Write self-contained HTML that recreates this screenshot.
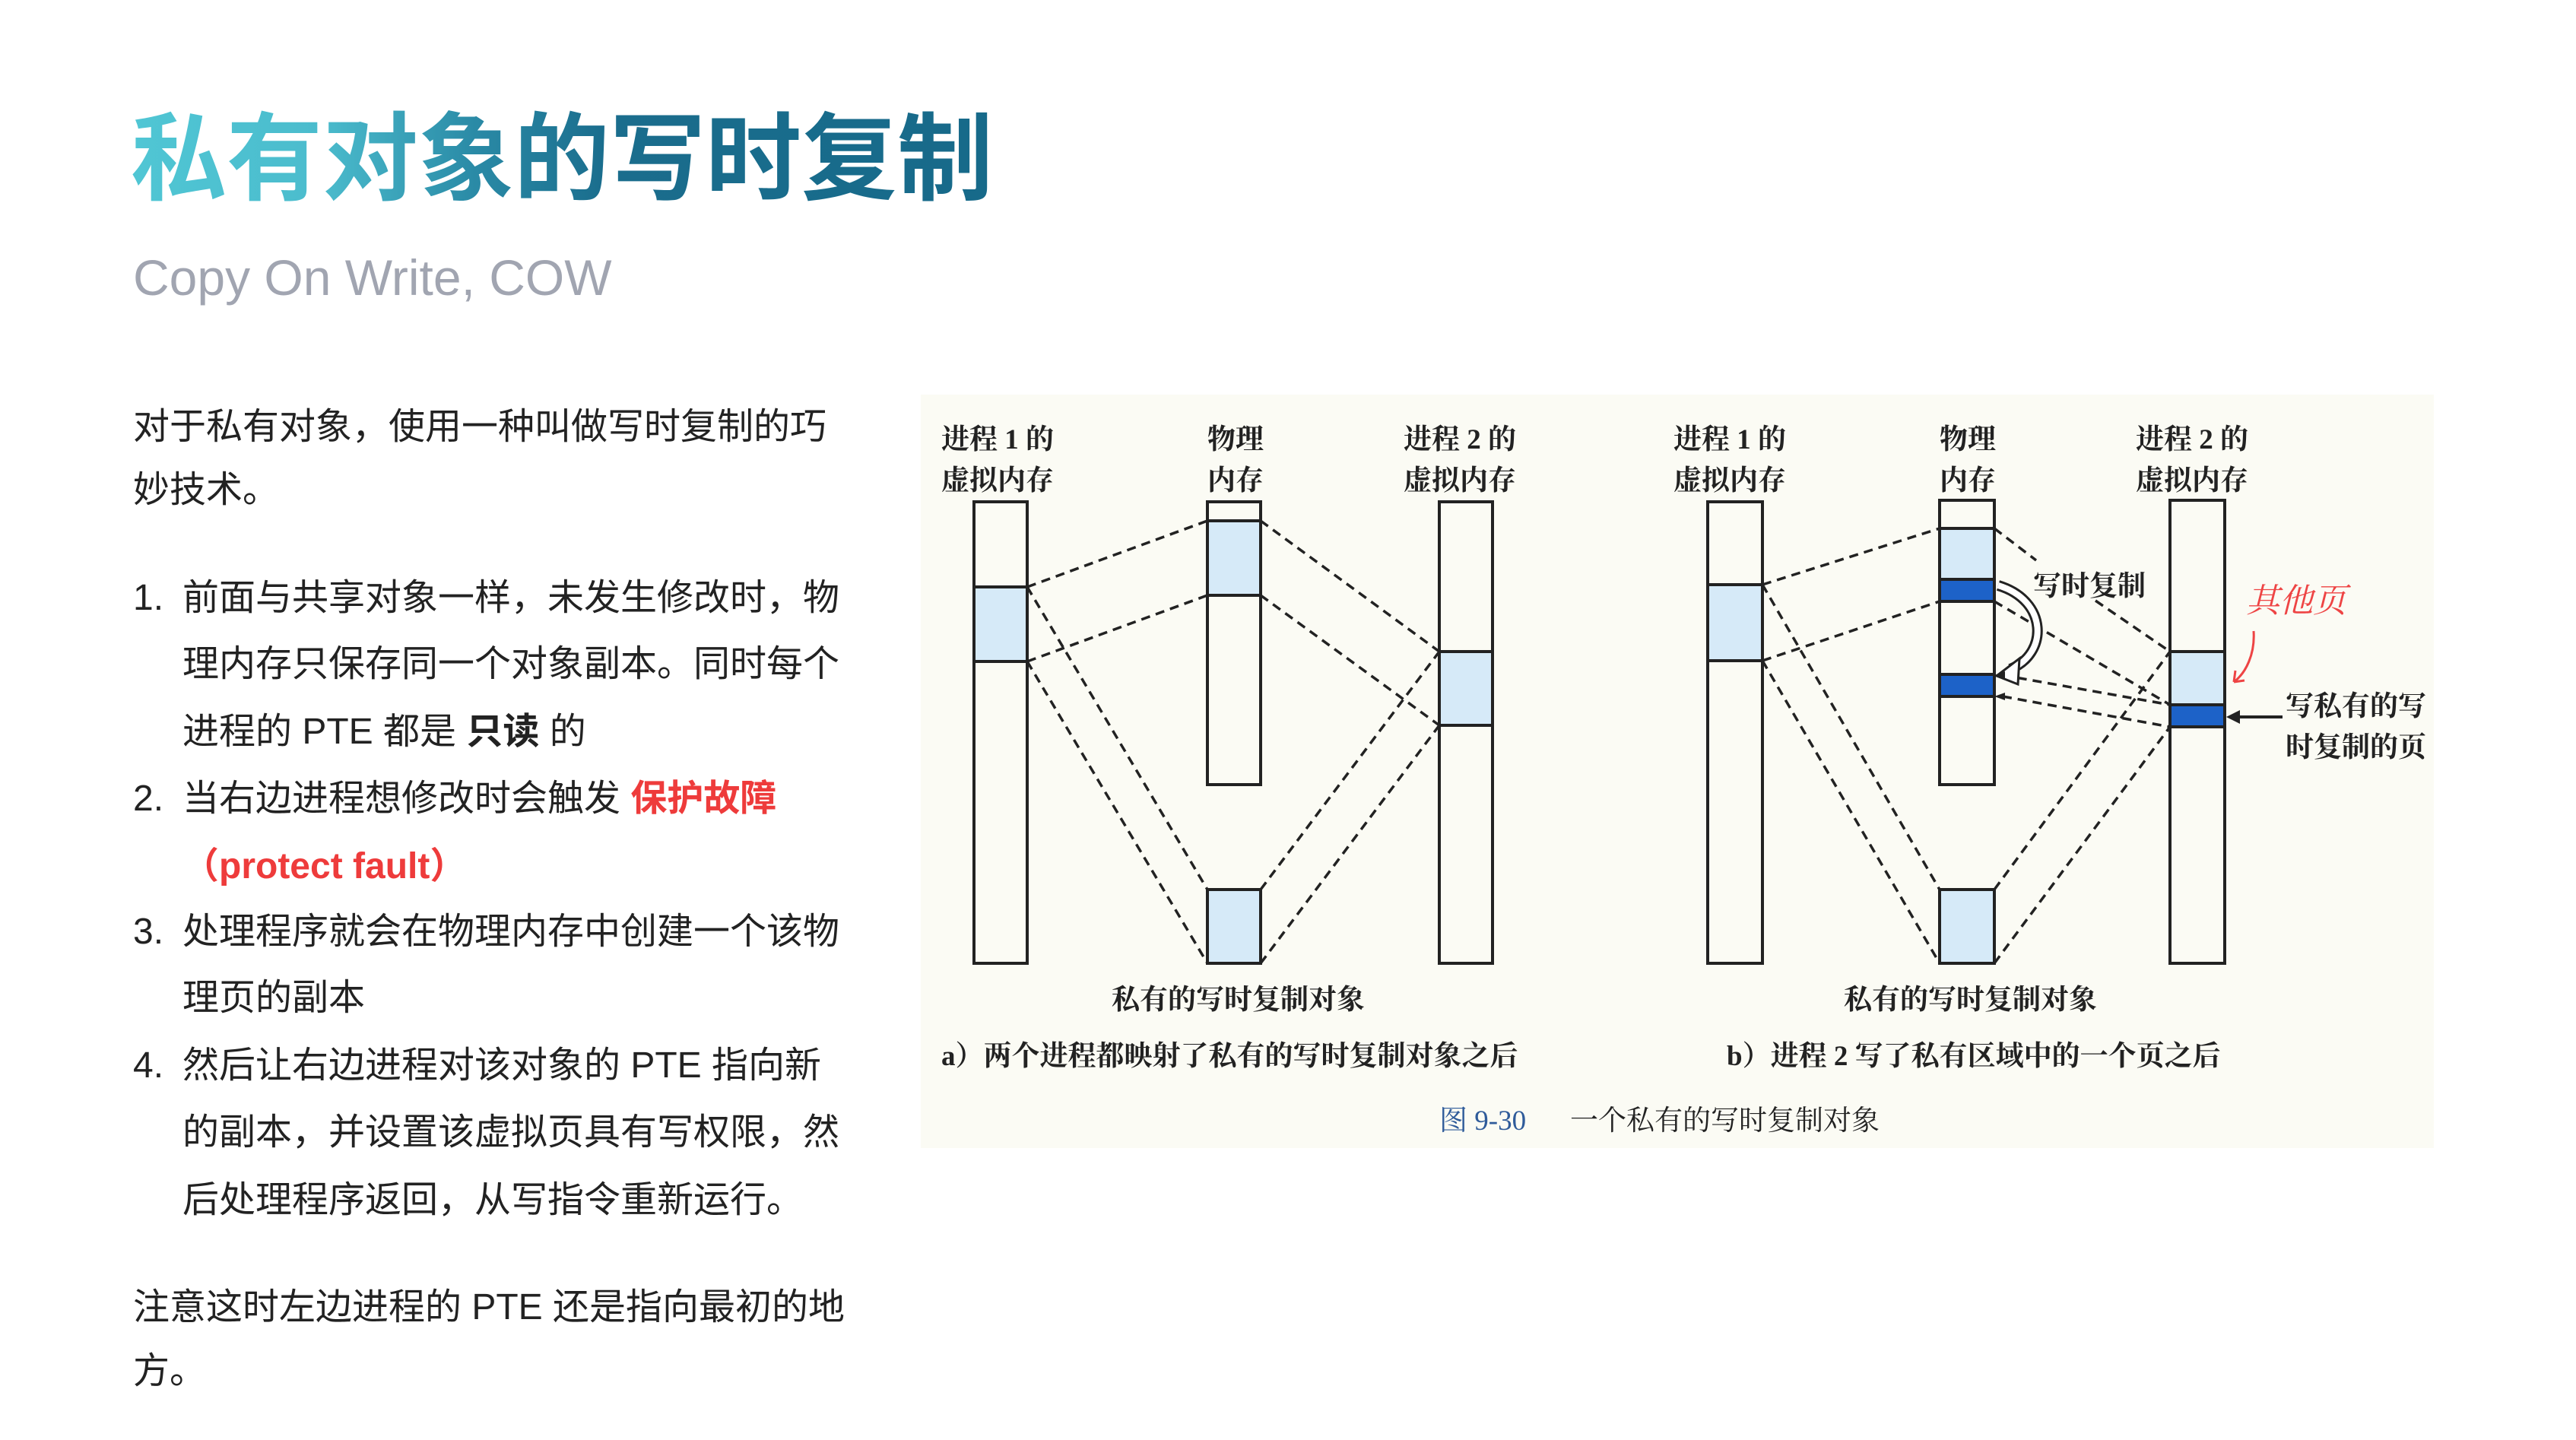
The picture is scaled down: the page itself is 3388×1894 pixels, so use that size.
<!DOCTYPE html>
<html><head><meta charset="utf-8"><style>
html,body{margin:0;padding:0;background:#fff;}
body{width:3388px;height:1894px;position:relative;overflow:hidden;font-family:"Liberation Sans","Noto Sans CJK SC",sans-serif;}
.t{position:absolute;white-space:nowrap;}
h1{position:absolute;left:172px;top:124px;margin:0;font-size:126px;line-height:150px;font-weight:bold;font-family:"Noto Sans CJK SC",sans-serif;
background:linear-gradient(90deg,#50c6d4 0%,#4bbccd 22%,#2a8aa6 40%,#1a6d8d 55%,#176a8a 100%);-webkit-background-clip:text;background-clip:text;color:transparent;}
.sub{left:175px;top:325px;font-size:66px;line-height:80px;color:#a1a5b1;}
.b{font-size:48px;line-height:80px;color:#222;font-family:"Liberation Sans","Noto Sans CJK SC",sans-serif;}
.red{color:#ee3b3b;font-weight:bold;}
svg text{font-family:"Liberation Serif","Noto Serif CJK SC",serif;}
</style></head><body>
<h1>私有对象的写时复制</h1>
<div class="t sub">Copy On Write, COW</div>

<div class="t b" style="left:175px;top:522px">对于私有对象，使用一种叫做写时复制的巧</div>
<div class="t b" style="left:175px;top:605px">妙技术。</div>
<div class="t b" style="left:175px;top:747px">1.</div>
<div class="t b" style="left:240px;top:747px">前面与共享对象一样，未发生修改时，物</div>
<div class="t b" style="left:240px;top:834px">理内存只保存同一个对象副本。同时每个</div>
<div class="t b" style="left:240px;top:923px">进程的 PTE 都是 <b>只读</b> 的</div>
<div class="t b" style="left:175px;top:1011px">2.</div>
<div class="t b" style="left:240px;top:1011px">当右边进程想修改时会触发 <span class="red">保护故障</span></div>
<div class="t b" style="left:240px;top:1100px"><span class="red">（protect fault）</span></div>
<div class="t b" style="left:175px;top:1186px">3.</div>
<div class="t b" style="left:240px;top:1186px">处理程序就会在物理内存中创建一个该物</div>
<div class="t b" style="left:240px;top:1273px">理页的副本</div>
<div class="t b" style="left:175px;top:1362px">4.</div>
<div class="t b" style="left:240px;top:1362px">然后让右边进程对该对象的 PTE 指向新</div>
<div class="t b" style="left:240px;top:1450px">的副本，并设置该虚拟页具有写权限，然</div>
<div class="t b" style="left:240px;top:1539px">后处理程序返回，从写指令重新运行。</div>
<div class="t b" style="left:175px;top:1680px">注意这时左边进程的 PTE 还是指向最初的地</div>
<div class="t b" style="left:175px;top:1764px">方。</div>

<svg style="position:absolute;left:0;top:0" width="3388" height="1894" viewBox="0 0 3388 1894">
<rect x="1211" y="519" width="1990" height="991" fill="#fbfbf4"/>
<g font-size="37" font-weight="bold" fill="#222">
<text x="1238" y="590">进程 1 的</text><text x="1238" y="644">虚拟内存</text>
<text x="1588" y="590">物理</text><text x="1588" y="644">内存</text>
<text x="1846" y="590">进程 2 的</text><text x="1846" y="644">虚拟内存</text>
<text x="1462" y="1327">私有的写时复制对象</text>
<text x="1238" y="1401">a）两个进程都映射了私有的写时复制对象之后</text>
</g>
<text x="1893" y="1486" font-size="37" fill="#2f5b9a">图 9-30</text>
<text x="2065" y="1486" font-size="37" fill="#222">一个私有的写时复制对象</text>
<g fill="#d6eaf8">
<rect x="1281" y="772" width="70" height="98"/><rect x="1588" y="685" width="70" height="98"/>
<rect x="1588" y="1170" width="70" height="97"/><rect x="1893" y="857" width="70" height="97"/>
</g>
<g fill="none" stroke="#222" stroke-width="4">
<rect x="1281" y="660" width="70" height="607"/>
<line x1="1281" y1="772" x2="1351" y2="772"/><line x1="1281" y1="870" x2="1351" y2="870"/>
<rect x="1588" y="660" width="70" height="372"/>
<line x1="1588" y1="685" x2="1658" y2="685"/><line x1="1588" y1="783" x2="1658" y2="783"/>
<rect x="1588" y="1170" width="70" height="97"/>
<rect x="1893" y="660" width="70" height="607"/>
<line x1="1893" y1="857" x2="1963" y2="857"/><line x1="1893" y1="954" x2="1963" y2="954"/>
</g>
<g stroke="#222" stroke-width="3.5" stroke-dasharray="12 8" fill="none">
<line x1="1351" y1="772" x2="1588" y2="685"/><line x1="1351" y1="870" x2="1588" y2="783"/>
<line x1="1351" y1="772" x2="1588" y2="1170"/><line x1="1351" y1="870" x2="1588" y2="1267"/>
<line x1="1658" y1="685" x2="1893" y2="857"/><line x1="1658" y1="783" x2="1893" y2="954"/>
<line x1="1658" y1="1170" x2="1893" y2="857"/><line x1="1658" y1="1267" x2="1893" y2="954"/>
</g>
<g transform="translate(-6,0)">
<g font-size="37" font-weight="bold" fill="#222">
<text x="2207" y="590">进程 1 的</text><text x="2207" y="644">虚拟内存</text>
<text x="2557" y="590">物理</text><text x="2557" y="644">内存</text>
<text x="2815" y="590">进程 2 的</text><text x="2815" y="644">虚拟内存</text>
<text x="2431" y="1327">私有的写时复制对象</text>
<text x="2277" y="1401">b）进程 2 写了私有区域中的一个页之后</text>
<text x="2680" y="783">写时复制</text>
<text x="3012" y="941">写私有的写</text>
<text x="3012" y="995">时复制的页</text>
</g>
<g fill="#d6eaf8">
<rect x="2252" y="769" width="72" height="100"/><rect x="2557" y="695" width="72" height="67"/>
<rect x="2557" y="1170" width="72" height="97"/><rect x="2860" y="857" width="72" height="70"/>
</g>
<g fill="#1d62c8">
<rect x="2557" y="762" width="72" height="29"/><rect x="2557" y="887" width="72" height="29"/>
<rect x="2860" y="927" width="72" height="29"/>
</g>
<g fill="none" stroke="#222" stroke-width="4">
<rect x="2252" y="660" width="72" height="607"/>
<line x1="2252" y1="769" x2="2324" y2="769"/><line x1="2252" y1="869" x2="2324" y2="869"/>
<rect x="2557" y="658" width="72" height="374"/>
<line x1="2557" y1="695" x2="2629" y2="695"/><line x1="2557" y1="762" x2="2629" y2="762"/><line x1="2557" y1="791" x2="2629" y2="791"/>
<line x1="2557" y1="887" x2="2629" y2="887"/><line x1="2557" y1="916" x2="2629" y2="916"/>
<rect x="2557" y="1170" width="72" height="97"/>
<rect x="2860" y="658" width="72" height="609"/>
<line x1="2860" y1="857" x2="2932" y2="857"/><line x1="2860" y1="927" x2="2932" y2="927"/><line x1="2860" y1="956" x2="2932" y2="956"/>
</g>
<g stroke="#222" stroke-width="3.5" stroke-dasharray="12 8" fill="none">
<line x1="2324" y1="769" x2="2557" y2="695"/><line x1="2324" y1="869" x2="2557" y2="791"/>
<line x1="2324" y1="769" x2="2557" y2="1170"/><line x1="2324" y1="869" x2="2557" y2="1267"/>
<line x1="2629" y1="695" x2="2684" y2="737"/><line x1="2762" y1="790" x2="2860" y2="857"/>
<line x1="2629" y1="791" x2="2860" y2="927"/>
<line x1="2640" y1="888" x2="2860" y2="927"/><line x1="2640" y1="916" x2="2860" y2="956"/>
<line x1="2629" y1="1170" x2="2860" y2="857"/><line x1="2629" y1="1267" x2="2860" y2="956"/>
</g>
<path d="M2634 770 C2700 790 2700 860 2650 880" fill="none" stroke="#222" stroke-width="14"/>
<path d="M2634 770 C2700 790 2700 860 2650 880" fill="none" stroke="#fff" stroke-width="8"/>
<polygon points="2632,889 2662,866 2660,900" fill="#fff" stroke="#222" stroke-width="3"/>
<polygon points="2629,888 2643,883 2643,893" fill="#222"/>
<polygon points="2629,916 2643,911 2643,921" fill="#222"/>
<line x1="3008" y1="943" x2="2948" y2="943" stroke="#222" stroke-width="4"/>
<polygon points="2934,943 2952,934 2952,952" fill="#222"/>
<text x="2960" y="805" font-size="44" fill="#ee4444" font-family="'Noto Sans CJK SC',sans-serif" font-style="italic">其他页</text>
<path d="M2970 830 C2972 860 2960 885 2944 897 M2944 897 L2958 895 M2944 897 L2946 882" fill="none" stroke="#ee4444" stroke-width="3"/>
</g>
</svg>
</body></html>
